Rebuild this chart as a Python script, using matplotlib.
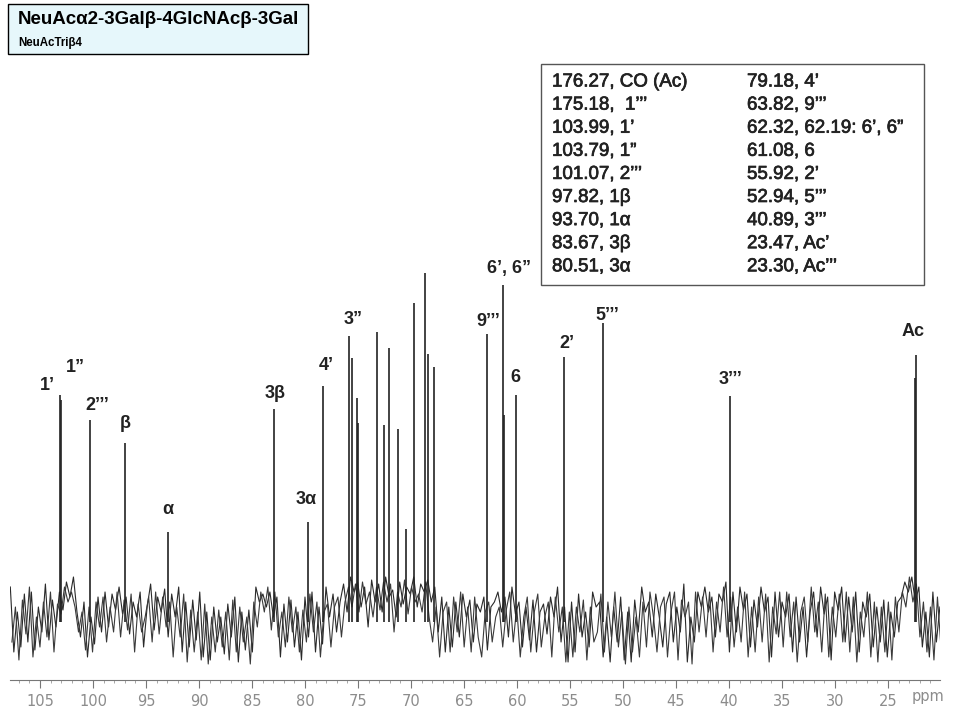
import numpy as np
import matplotlib
matplotlib.use("Agg")
import matplotlib.pyplot as plt
import matplotlib.patheffects as pe
from matplotlib.patches import Rectangle

plt.rcParams['font.family'] = ['Liberation Sans', 'DejaVu Sans']

# peak positions (ppm) and heights above baseline
peak_ppm = [103.11, 103.02, 100.28, 96.98, 92.92, 82.92, 79.72, 78.30,
            75.85, 75.57, 75.09, 75.00, 73.21, 72.55, 72.08, 71.23, 70.47,
            69.72, 68.68, 68.40, 67.83, 62.83, 61.32, 61.23, 60.09, 55.57,
            51.89, 39.91, 22.36, 22.45]
peak_height = [227, 222, 202, 179, 90, 213, 100, 236,
               286, 264, 224, 199, 290, 197, 274, 193, 93,
               319, 349, 268, 255, 288, 337, 207, 227, 265,
               299, 226, 267, 244]

# baseline noise (two passes, left to right)
noise_a = [35, -30, 10, -25, 28, -20, 30, -28, 15, -10, 38, -18, 22, -5, 30, 12, 40, 25, 45, 10,
           -15, 20, -35, 5, -22, 25, -10, 30, -5, 28, 12, 35, 8, 25, -12, 20, 5, 30, -25, 15,
           38, -8, 25, 10, 33, -15, 28, 5, 35, -30, 20, -25, 22, -18, 30, -35, 10, -38, 15, -20,
           5, -32, 18, -15, 25, -40, 10, -28, 12, -30, 35, 20, 28, 15, 30, 5, 25, -35, 18, -20,
           22, -25, 10, -38, 25, -15, 30, -30, 15, -22, 35, 5, 28, -10, 20, 38, 10, 45, 30, 40,
           15, 35, -5, 42, 20, 38, 10, 45, 25, 32, 5, 40, 18, 35, 28, 45, 15, 38, 30, 42,
           20, 35, -10, 25, -30, 15, -25, 20, -15, 28, 5, 22, -20, 18, 10, 25, -28, 15, 20, 30,
           10, 25, -15, 35, 8, 20, -25, 15, -18, 22, -30, 10, 18, -12, 25, 5, 35, -20, 15, -40,
           20, -30, 28, -15, 10, -25, 30, 15, 20, -35, 5, -40, 15, -20, 25, -38, 10, -40, 22, -10,
           35, 10, 20, -15, 28, 5, -25, 18, 30, -20, 15, -10, 38, -40, 5, -20, 30, 15, 35, 10,
           25, -15, 28, 20, 40, -30, 30, -10, 35, 12, 28, -25, 22, -5, 35, 10, 25, -35, 30, -15,
           20, 5, 28, -30, 25, -20, 15, -35, 10, 30, -15, 35, 8, 25, -38, 30, 12, 35, -20, 25,
           -10, 30, -30, 20, 5, 28, -25, 15, -20, 22, -35, 10, -15, 20, 25, 40, 30, 45, 20, 35,
           -25, 10, -35, 30, -20, 15]
noise_b = [-20, 15, -38, 22, -12, 35, -35, 5, -25, 20, -15, 30, -30, 18, 8, 35, 20, 30, 15, -10,
           10, -28, 15, -30, 20, -5, 25, -20, 15, -10, 30, -15, 22, -8, 28, -30, 18, -10, 5, 25,
           -20, 30, -12, 25, -5, 20, -35, 15, -15, 28, -40, 12, -30, 10, -38, 18, -42, 5, -30, 12,
           -25, 10, -38, 22, -30, 15, -20, 5, -42, 20, -5, 30, 10, 35, -8, 30, -15, 10, -25, 25,
           -10, 15, -30, 12, -20, 28, -10, 20, -35, 10, 18, -25, 15, 25, -15, 20, 35, 15, 38, 10,
           40, 18, 30, 5, 35, 12, 40, 20, 38, -10, 30, 15, 42, 8, 35, 20, 28, 10, 40, 5,
           -20, 15, -35, 10, 20, -30, 25, -10, 30, -25, 15, -30, 25, -15, -35, 10, 20, -20, 5, 15,
           -25, 12, 30, -20, 15, -35, 5, 25, -30, 10, 28, -25, 5, 20, -35, 25, -10, 15, -40, 10,
           -35, 15, -10, 22, -38, 15, -20, -10, 28, -30, 20, -15, 30, -25, 10, -42, 15, -30, 5, -35,
           20, -25, 30, 5, -30, 15, 25, -35, 10, 30, -38, 22, 5, 20, -42, 30, -10, 25, -15, 30,
           -30, 20, -10, 35, -15, 25, -25, 15, -20, 30, -35, 15, -30, 25, -20, 28, -40, 15, -12, 30,
           -25, 30, -15, 20, -40, 10, 25, -20, 35, -10, 20, -30, 28, -35, 15, -15, 28, -20, 30, -30,
           25, -40, 10, -15, 30, -35, 20, -40, 15, -30, 20, -38, 25, -10, 30, 15, 45, 20, 38, -15,
           20, -30, 15, -38, 25, -25]

# peak labels: text, ppm, height
label_text = ["1\u2019", "1\u201d", "2\u2019\u2019\u2019", "\u03b2", "\u03b1", "3\u03b2", "3\u03b1",
              "4\u2019", "3\u201d", "9\u2019\u2019\u2019", "6\u2019, 6\u201d", "6", "2\u2019",
              "5\u2019\u2019\u2019", "3\u2019\u2019\u2019", "Ac"]
label_ppm = [104.34, 101.70, 99.62, 96.98, 92.92, 82.83, 79.91, 78.02, 75.47, 62.74,
             60.75, 60.19, 55.28, 51.51, 39.81, 22.64]
label_y = [236, 254, 217, 199, 113, 229, 122, 256, 302, 300, 354, 244, 279, 307, 242, 290]

# assignment table
table_left = ["176.27, CO (Ac)", "175.18,  1\u2019\u2019\u2019", "103.99, 1\u2019",
              "103.79, 1\u201d", "101.07, 2\u2019\u2019\u2019", "97.82, 1\u03b2",
              "93.70, 1\u03b1", "83.67, 3\u03b2", "80.51, 3\u03b1"]
table_right = ["79.18, 4\u2019", "63.82, 9\u2019\u2019\u2019", "62.32, 62.19: 6\u2019, 6\u201d",
               "61.08, 6", "55.92, 2\u2019", "52.94, 5\u2019\u2019\u2019", "40.89, 3\u2019\u2019\u2019",
               "23.47, Ac\u2019", "23.30, Ac\u2019\u2019\u2019"]

ticks = list(range(105, 24, -5))

W, H = 960, 720
fig = plt.figure(figsize=(9.6, 7.2), dpi=100)
ax = fig.add_axes([10 / W, 40 / H, 930 / W, 430 / H])

# two overlapping traces give the dense scanned-baseline look
x_a = np.linspace(107.8, 20.1, len(noise_a))
x_b = np.linspace(107.65, 20.0, len(noise_b))
ax.plot(x_a, noise_a, color="#2a2a2a", lw=0.8)
ax.plot(x_b, noise_b, color="#3a3a3a", lw=0.8)
ax.vlines(peak_ppm, 0, peak_height, color="#222222", lw=1.2)

for t, xp, yp in zip(label_text, label_ppm, label_y):
    ax.text(xp, yp, t, ha="center", va="center", fontsize=13,
            fontweight="bold", color="#222222")

ax.set_xlim(107.83, 20.09)
ax.set_ylim(-58, 372)
for s in ["top", "left", "right"]:
    ax.spines[s].set_visible(False)
ax.spines["bottom"].set_color("#777777")
ax.set_yticks([])
ax.set_xticks(ticks)
ax.set_xticklabels([str(t) for t in ticks], family="DejaVu Sans", color="#8c8c8c", fontsize=10.5)
ax.set_xticks(np.arange(107, 20, -1), minor=True)
ax.tick_params(axis="x", which="major", length=6, color="#777777", direction="out", pad=4)
ax.tick_params(axis="x", which="minor", length=2.5, color="#999999", direction="out")
ax.text(22.74, -75, "ppm", ha="left", va="center", family="DejaVu Sans",
        color="#8c8c8c", fontsize=10.5, clip_on=False)

# title box
fig.add_artist(Rectangle((8 / W, 1 - 54 / H), 300 / W, 50 / H, transform=fig.transFigure,
                         facecolor="#e6f7fb", edgecolor="black", lw=1))
fig.text(18 / W, 1 - 20 / H, "NeuAc\u03b12-3Gal\u03b2-4GlcNAc\u03b2-3Gal", ha="left", va="center",
         fontsize=13.5, fontweight="bold")
fig.text(18 / W, 1 - 43 / H, "NeuAcTri\u03b24", ha="left", va="center",
         fontsize=8.3, fontweight="bold")

# assignment table box
fig.add_artist(Rectangle((541 / W, 1 - 285 / H), 383 / W, 221 / H, transform=fig.transFigure,
                         facecolor="white", edgecolor="#555555", lw=1))
heavy = [pe.withStroke(linewidth=0.5, foreground="#222222")]
for i, (a, b) in enumerate(zip(table_left, table_right)):
    yy = 1 - (82 + 23.1 * i) / H
    fig.text(552 / W, yy, a, ha="left", va="center", fontsize=13.5, color="#222222",
             path_effects=heavy)
    fig.text(747 / W, yy, b, ha="left", va="center", fontsize=13.5, color="#222222",
             path_effects=heavy)

fig.savefig("out.png", dpi=100)
